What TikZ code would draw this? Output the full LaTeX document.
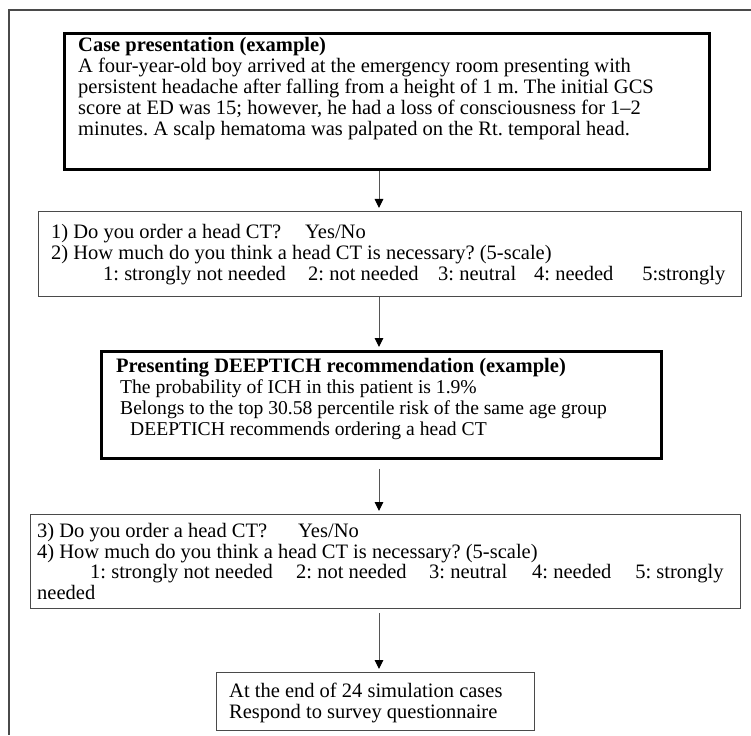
\documentclass[tikz,border=0pt]{standalone}
\usepackage{fontspec}
\setmainfont{Liberation Serif}
\usetikzlibrary{arrows.meta}
\definecolor{framegray}{HTML}{4A4A4A}
\definecolor{linegray}{HTML}{555555}
\begin{document}
\begin{tikzpicture}[x=1pt,y=-1pt,
  txt/.style={font=\fontsize{20.5pt}{21pt}\selectfont\frenchspacing, anchor=north west, align=left, inner sep=0pt},
  smalltxt/.style={txt, font=\fontsize{19.6pt}{21pt}\selectfont\frenchspacing},
  thinbox/.style={draw=framegray, line width=1.4pt, anchor=north west, inner sep=0pt},
  thickbox/.style={draw=black, line width=2.8pt, anchor=north west, inner sep=0pt},
  flow/.style={draw=linegray, line width=1pt, -{Triangle[width=8.5pt,length=9pt,color=black]}, shorten >=3pt}
]
\useasboundingbox (0,0) rectangle (751,735);
\fill[white] (0,0) rectangle (751,735);
% outer frame (top and left only)
\coordinate (ftl) at (9,10);
\coordinate (ftr) at (751,10);
\coordinate (fbl) at (9,735);
\draw[framegray, line width=1.4pt] (ftr) -- (ftl) -- (fbl);

% box 1
\node[thickbox, minimum width=645pt, minimum height=136pt] (b1) at (63,32) {};
\node[txt] (t1) at (78,37)
 {\strut\textbf{Case presentation (example)}\\
  A four-year-old boy arrived at the emergency room presenting with\\
  persistent headache after falling from a height of 1 m. The initial GCS\\
  score at ED was 15; however, he had a loss of consciousness for 1--2\\
  minutes. A scalp hematoma was palpated on the Rt. temporal head.};

% box 2
\node[thinbox, minimum width=703pt, minimum height=85pt] (b2) at (38,211) {};
\node[txt] (t2) at (51,224)
 {\strut\makebox[254pt][l]{1) Do you order a head CT?}Yes/No\\
  2) How much do you think a head CT is necessary? (5-scale)\\
  \hspace*{52pt}\makebox[205pt][l]{1: strongly not needed}\makebox[130pt][l]{2: not needed}\makebox[96pt][l]{3: neutral}\makebox[108pt][l]{4: needed}5:strongly};

% box 3
\node[thickbox, minimum width=560pt, minimum height=107pt] (b3) at (100,350) {};
\node[smalltxt] (t3) at (116,358)
 {\strut{\fontsize{20.5pt}{21pt}\selectfont\textbf{Presenting DEEPTICH recommendation (example)}}\\
  \hspace*{4pt}The probability of ICH in this patient is 1.9\%\\
  \hspace*{4pt}Belongs to the top 30.58 percentile risk of the same age group\\
  \hspace*{14pt}DEEPTICH recommends ordering a head CT};

% box 4
\node[thinbox, minimum width=710pt, minimum height=94pt] (b4) at (30,514) {};
\node[txt, font=\fontsize{20.5pt}{20.5pt}\selectfont\frenchspacing] (t4) at (37,523)
 {\strut\makebox[261pt][l]{3) Do you order a head CT?}Yes/No\\
  4) How much do you think a head CT is necessary? (5-scale)\\
  \hspace*{53pt}\makebox[206pt][l]{1: strongly not needed}\makebox[133pt][l]{2: not needed}\makebox[103pt][l]{3: neutral}\makebox[103pt][l]{4: needed}5: strongly\\
  needed};

% box 5
\node[thinbox, minimum width=318pt, minimum height=58pt] (b5) at (216,672) {};
\node[txt] (t5) at (229,683)
 {\strut At the end of 24 simulation cases\\
  Respond to survey questionnaire};

% connectors
\draw[flow] (b1.south -| 379,0) -- (b2.north -| 379,0);
\draw[flow] (b2.south -| 379,0) -- (b3.north -| 379,0);
\draw[flow, shorten <=9pt] (b3.south -| 379,0) -- (b4.north -| 379,0);
\draw[flow, shorten <=4pt] (b4.south -| 379,0) -- (b5.north -| 379,0);
\end{tikzpicture}
\end{document}
